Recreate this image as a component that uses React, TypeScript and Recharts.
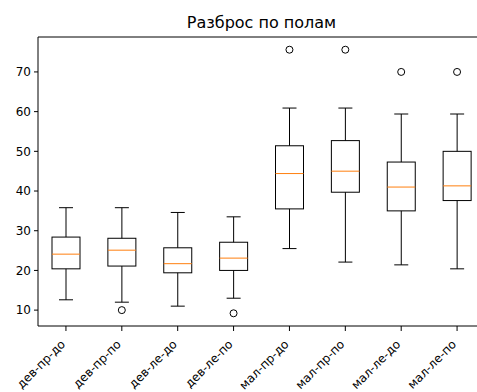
import React from 'react';
import { ComposedChart, Bar, Line, XAxis, YAxis, ReferenceLine } from 'recharts';

const categories = ['дев-пр-до', 'дев-пр-по', 'дев-ле-до', 'дев-ле-по', 'мал-пр-до', 'мал-пр-по', 'мал-ле-до', 'мал-ле-по'];
const whiskerLow = [12.6, 12.0, 11.0, 13.0, 25.5, 22.1, 21.4, 20.4];
const q1 = [20.4, 21.1, 19.4, 20.0, 35.5, 39.7, 35.0, 37.6];
const median = [24.1, 25.1, 21.7, 23.1, 44.4, 45.0, 41.0, 41.3];
const q3 = [28.4, 28.1, 25.7, 27.1, 51.4, 52.7, 47.3, 50.0];
const whiskerHigh = [35.8, 35.8, 34.6, 33.5, 60.9, 60.9, 59.4, 59.4];
const outliers: (number | null)[] = [null, 10, null, 9.2, 75.6, 75.6, 70, 70];
const yTicks = [10, 20, 30, 40, 50, 60, 70];

const data = categories.map((name, i) => ({
  name,
  range: [whiskerLow[i], whiskerHigh[i]],
  lo: whiskerLow[i],
  hi: whiskerHigh[i],
  q1: q1[i],
  median: median[i],
  q3: q3[i],
  outlier: outliers[i],
}));

const FONT = '"DejaVu Sans", sans-serif';

const BoxShape = (props: any) => {
  const { x, y, width, height, payload } = props;
  const top = Math.min(y, y + height);
  const bottom = Math.max(y, y + height);
  const { lo, hi } = payload;
  const pix = (v: number) => bottom - ((v - lo) / (hi - lo)) * (bottom - top);
  const cx = x + width / 2;
  const capHalf = width / 4;
  const yq1 = pix(payload.q1);
  const yq3 = pix(payload.q3);
  const ymed = pix(payload.median);
  return (
    <g>
      <line x1={cx} x2={cx} y1={top} y2={yq3} stroke="#000" strokeWidth={1} />
      <line x1={cx} x2={cx} y1={yq1} y2={bottom} stroke="#000" strokeWidth={1} />
      <line x1={cx - capHalf} x2={cx + capHalf} y1={top} y2={top} stroke="#000" strokeWidth={1} />
      <line x1={cx - capHalf} x2={cx + capHalf} y1={bottom} y2={bottom} stroke="#000" strokeWidth={1} />
      <rect x={x} y={yq3} width={width} height={yq1 - yq3} fill="none" stroke="#000" strokeWidth={1} />
      <line x1={x} x2={x + width} y1={ymed} y2={ymed} stroke="#ff7f0e" strokeWidth={1} />
    </g>
  );
};

const OutlierDot = (props: any) => {
  const { cx, cy, index, value } = props;
  if (value == null || cy == null || isNaN(cy)) return <g key={`o-${index}`} />;
  return <circle key={`o-${index}`} cx={cx} cy={cy} r={3.5} fill="none" stroke="#000" strokeWidth={1} />;
};

const XTick = (props: any) => {
  const { x, y, payload } = props;
  return (
    <g transform={`translate(${x},${y + 12})`}>
      <text textAnchor="end" transform="rotate(-45)" fontSize={12} fontFamily={FONT} fill="#000">
        {payload.value}
      </text>
    </g>
  );
};

export default function App() {
  return (
    <div style={{ position: 'absolute', left: 0, top: 0, width: 477, height: 392, overflow: 'hidden', background: '#fff' }}>
      <ComposedChart
        width={500}
        height={392}
        data={data}
        margin={{ top: 37, right: 15, bottom: 0, left: 0 }}
        style={{ fontFamily: FONT }}
      >
        <XAxis
          dataKey="name"
          interval={0}
          height={66}
          tick={<XTick />}
          tickSize={5}
          axisLine={{ stroke: '#000' }}
          tickLine={{ stroke: '#000' }}
        />
        <YAxis
          type="number"
          domain={[6, 78.8]}
          ticks={yTicks}
          allowDataOverflow
          width={38}
          tickSize={4}
          tickMargin={3}
          tick={{ fill: '#000', fontSize: 12, fontFamily: FONT }}
          axisLine={{ stroke: '#000' }}
          tickLine={{ stroke: '#000' }}
        />
        <ReferenceLine
          y={78.8}
          stroke="#000"
          label={{ value: 'Разброс по полам', position: 'top', offset: 9, fontSize: 16, fill: '#000', fontFamily: FONT }}
        />
        <Bar dataKey="range" barSize={28} fill="none" shape={<BoxShape />} isAnimationActive={false} />
        <Line
          dataKey="outlier"
          stroke="none"
          dot={<OutlierDot />}
          activeDot={false}
          isAnimationActive={false}
          legendType="none"
        />
      </ComposedChart>
    </div>
  );
}
